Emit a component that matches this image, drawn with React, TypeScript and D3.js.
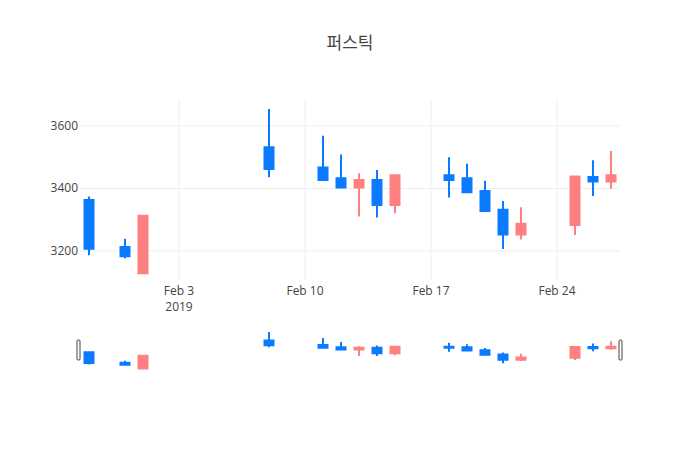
import * as d3 from "d3";
import { useEffect, useRef } from "react";

const dates = [
  "2019-01-29", "2019-01-31", "2019-02-01", "2019-02-08", "2019-02-11",
  "2019-02-12", "2019-02-13", "2019-02-14", "2019-02-15", "2019-02-18",
  "2019-02-19", "2019-02-20", "2019-02-21", "2019-02-22", "2019-02-25",
  "2019-02-26", "2019-02-27",
];
const openValues = [3363, 3213, 3129, 3532, 3467, 3433, 3403, 3427, 3347, 3442, 3433, 3392, 3332, 3253, 3283, 3437, 3422];
const highValues = [3374, 3239, 3315, 3654, 3569, 3509, 3449, 3459, 3442, 3500, 3479, 3425, 3360, 3340, 3438, 3490, 3520];
const lowValues = [3186, 3177, 3129, 3436, 3427, 3403, 3310, 3307, 3321, 3371, 3388, 3328, 3206, 3237, 3251, 3376, 3399];
const closeValues = [3207, 3183, 3313, 3462, 3427, 3403, 3427, 3347, 3442, 3427, 3388, 3328, 3253, 3287, 3438, 3422, 3442];
const yTicks = [3200, 3400, 3600];
const title = "퍼스틱";

const width = 700;
const height = 450;
const upColor = "#ff8080";
const downColor = "#0a7aff";

export default function App() {
  const ref = useRef<SVGSVGElement>(null);

  useEffect(() => {
    document.body.style.margin = "0";
    const svg = d3.select(ref.current);
    svg.selectAll("*").remove();

    const data = dates.map((d, i) => ({
      date: new Date(d + "T00:00:00Z"),
      open: openValues[i],
      high: highValues[i],
      low: lowValues[i],
      close: closeValues[i],
    }));

    const left = 80;
    const right = 620;
    const x = d3
      .scaleUtc()
      .domain([new Date("2019-01-28T12:00:00Z"), new Date("2019-02-27T12:00:00Z")])
      .range([left, right]);
    const yDomain: [number, number] = [3107, 3683];
    const y = d3.scaleLinear().domain(yDomain).range([280, 100]);
    const ySlider = d3.scaleLinear().domain(yDomain).range([370, 330]);

    const font = "'Open Sans', 'Noto Sans CJK KR', sans-serif";

    // title
    svg
      .append("text")
      .attr("x", 350)
      .attr("y", 49)
      .attr("text-anchor", "middle")
      .attr("font-family", font)
      .attr("font-size", 17)
      .attr("fill", "#444")
      .text(title);

    // grid
    const xTicks = x.ticks(d3.utcSunday.every(1)!);
    svg
      .append("g")
      .selectAll("line")
      .data(xTicks)
      .enter()
      .append("line")
      .attr("x1", (d) => x(d))
      .attr("x2", (d) => x(d))
      .attr("y1", 100)
      .attr("y2", 280)
      .attr("stroke", "#eee")
      .attr("stroke-width", 1);
    svg
      .append("g")
      .selectAll("line")
      .data(yTicks)
      .enter()
      .append("line")
      .attr("x1", left)
      .attr("x2", right)
      .attr("y1", (d) => y(d))
      .attr("y2", (d) => y(d))
      .attr("stroke", "#eee")
      .attr("stroke-width", 1);

    // axis labels
    svg
      .append("g")
      .selectAll("text")
      .data(yTicks)
      .enter()
      .append("text")
      .attr("x", 78)
      .attr("y", (d) => y(d) + 4)
      .attr("text-anchor", "end")
      .attr("font-family", font)
      .attr("font-size", 12)
      .attr("fill", "#444")
      .text((d) => d);

    const fmt = d3.utcFormat("%b %-d");
    const xLabels = svg
      .append("g")
      .selectAll("text")
      .data(xTicks)
      .enter()
      .append("text")
      .attr("text-anchor", "middle")
      .attr("font-family", font)
      .attr("font-size", 12)
      .attr("fill", "#444");
    xLabels
      .append("tspan")
      .attr("x", (d) => x(d))
      .attr("y", 295)
      .text((d) => fmt(d));
    xLabels
      .filter((d, i) => i === 0)
      .append("tspan")
      .attr("x", (d) => x(d))
      .attr("y", 311)
      .text((d) => d3.utcFormat("%Y")(d));

    // candles
    const halfBody = 4.5;
    const drawCandles = (g: any, yScale: d3.ScaleLinear<number, number>) => {
      g.selectAll("path")
        .data(data)
        .enter()
        .append("path")
        .attr("d", (d: any) => {
          const cx = x(d.date);
          const top = yScale(Math.max(d.open, d.close));
          const bot = yScale(Math.min(d.open, d.close));
          return (
            `M${cx - halfBody},${top}H${cx + halfBody}V${bot}H${cx - halfBody}Z` +
            `M${cx},${yScale(d.high)}V${top}M${cx},${bot}V${yScale(d.low)}`
          );
        })
        .attr("fill", (d: any) => (d.close > d.open ? upColor : downColor))
        .attr("stroke", (d: any) => (d.close > d.open ? upColor : downColor))
        .attr("stroke-width", 2);
    };

    drawCandles(svg.append("g"), y);
    drawCandles(svg.append("g"), ySlider);

    // range slider handles
    [left - 1.5, right + 0.5].forEach((hx) => {
      svg
        .append("rect")
        .attr("x", hx - 1.5)
        .attr("y", 340)
        .attr("width", 3)
        .attr("height", 20)
        .attr("rx", 1)
        .attr("fill", "#fff")
        .attr("stroke", "#444")
        .attr("stroke-width", 1);
    });
  }, []);

  return <svg ref={ref} width={width} height={height} style={{ display: "block", background: "#fff" }} />;
}
